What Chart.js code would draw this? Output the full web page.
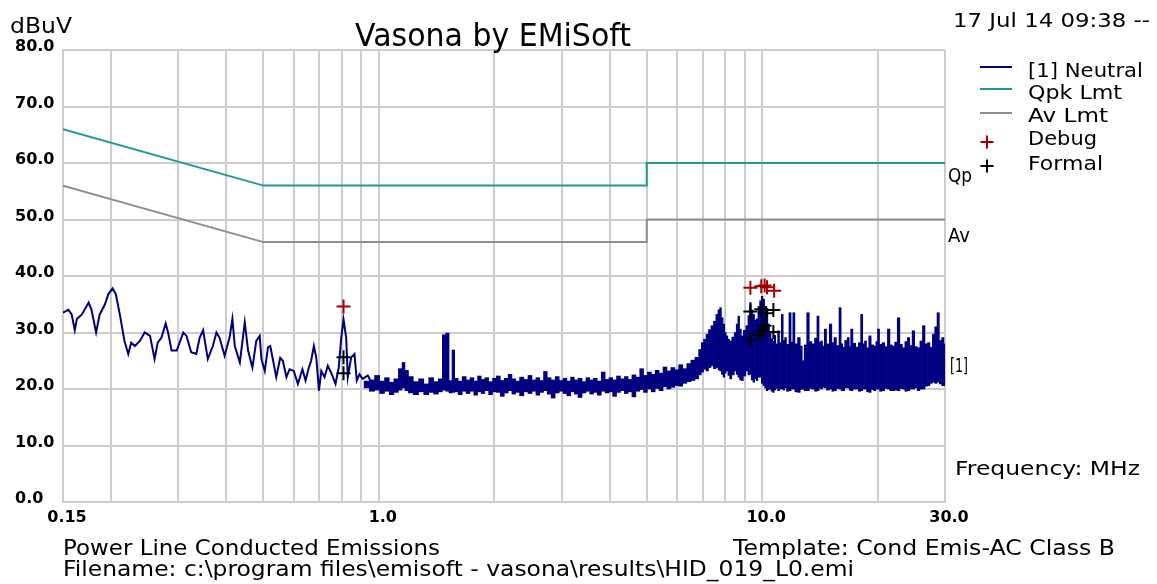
<!DOCTYPE html>
<html>
<head>
<meta charset="utf-8">
<title>Vasona by EMiSoft</title>
<script src="https://cdn.jsdelivr.net/npm/chart.js@4.4.1/dist/chart.umd.min.js"></script>
<style>
  html, body { margin: 0; padding: 0; background: #fff; }
  #wrap { width: 1157px; height: 584px; }
</style>
</head>
<body>
<div id="wrap"><canvas id="emiChart" width="1157" height="584"></canvas></div>
<script>
// Axis ticks
const xGridTicks = [0.15, 0.2, 0.3, 0.4, 0.5, 0.6, 0.7, 0.8, 0.9, 1, 2, 3, 4, 5, 6, 7, 8, 9, 10, 20, 30];
const xTickLabels = { 0.15: '0.15', 1: '1.0', 10: '10.0', 30: '30.0' };
const yTickValues = [0, 10, 20, 30, 40, 50, 60, 70, 80];

// Limit lines [MHz, dBuV]
const qpkLimit = [[0.15, 66], [0.5, 56], [5, 56], [5, 60], [30, 60]];
const avLimit = [[0.15, 56], [0.5, 46], [5, 46], [5, 50], [30, 50]];

// Neutral sweep, low band [MHz, dBuV]
const neutralSweep = [
  [0.150, 33.5], [0.155, 34.0], [0.158, 33.2], [0.161, 30.4], [0.163, 32.4], [0.168, 33.2],
  [0.175, 35.3], [0.178, 34.0], [0.183, 30.0], [0.187, 33.2], [0.193, 35.0], [0.197, 36.8],
  [0.202, 37.8], [0.206, 36.8], [0.211, 33.2], [0.217, 28.5], [0.222, 26.2], [0.226, 28.2],
  [0.231, 27.6], [0.238, 28.5], [0.245, 30.0], [0.253, 29.4], [0.260, 25.3], [0.265, 28.2],
  [0.271, 29.1], [0.278, 31.6], [0.282, 30.0], [0.288, 26.8], [0.297, 26.8], [0.309, 30.0],
  [0.315, 29.4], [0.324, 26.5], [0.334, 26.2], [0.341, 29.1], [0.348, 30.4], [0.358, 25.3],
  [0.369, 27.6], [0.377, 30.0], [0.384, 29.1], [0.396, 25.9], [0.408, 29.1], [0.415, 32.4],
  [0.421, 27.6], [0.434, 24.7], [0.447, 31.8], [0.456, 26.8], [0.468, 23.8], [0.479, 28.5],
  [0.489, 29.4], [0.494, 25.3], [0.504, 23.2], [0.514, 27.4], [0.521, 27.6], [0.530, 25.0],
  [0.540, 22.1], [0.553, 25.5], [0.562, 25.0], [0.574, 22.1], [0.585, 23.5], [0.600, 23.2],
  [0.615, 20.9], [0.632, 23.5], [0.644, 21.5], [0.657, 23.8], [0.666, 25.0], [0.677, 27.6],
  [0.687, 25.5], [0.698, 19.7], [0.708, 23.2], [0.722, 22.1], [0.736, 24.1], [0.751, 22.9],
  [0.771, 20.9], [0.786, 23.8], [0.798, 29.1], [0.809, 32.3], [0.822, 29.1], [0.830, 22.1],
  [0.847, 25.6], [0.864, 26.2], [0.876, 21.5], [0.890, 22.6], [0.908, 21.8], [0.936, 22.4],
  [0.965, 20.6], [0.993, 21.8], [1.024, 20.6]
];

// Neutral sweep, dense part [MHz, top dBuV, bottom dBuV]
const neutralBand = [
  [0.93, 21.4, 20.2], [0.96, 21.6, 19.6], [0.99, 22.4, 19.8],
  [1.02, 21.4, 19.2], [1.05, 22.0, 19.6], [1.08, 21.2, 19.0], [1.11, 21.8, 19.4], [1.14, 23.6, 19.8],
  [1.16, 24.7, 20.2], [1.18, 23.3, 19.7], [1.21, 22.2, 19.3], [1.25, 21.3, 19.0], [1.29, 21.8, 19.5],
  [1.33, 20.9, 19.0], [1.37, 22.0, 19.4], [1.41, 21.3, 19.1], [1.45, 21.8, 19.5], [1.48, 29.6, 19.8],
  [1.51, 29.9, 19.6], [1.54, 21.5, 19.3], [1.565, 26.9, 19.4], [1.59, 21.9, 19.5], [1.63, 21.4, 19.0],
  [1.67, 22.2, 19.6], [1.71, 21.6, 19.2], [1.75, 22.0, 19.6], [1.79, 21.4, 18.9], [1.83, 22.3, 19.5],
  [1.87, 21.7, 19.2], [1.91, 22.0, 19.7], [1.96, 21.3, 19.0], [2.00, 21.9, 19.5], [2.05, 22.3, 19.4],
  [2.10, 21.5, 18.7], [2.15, 21.9, 19.3], [2.20, 22.6, 19.7], [2.25, 21.8, 19.1], [2.30, 21.4, 19.4],
  [2.36, 22.1, 18.8], [2.42, 21.7, 19.5], [2.48, 22.4, 19.2], [2.54, 21.6, 19.6], [2.60, 22.0, 18.9],
  [2.66, 21.5, 19.4], [2.72, 23.1, 19.7], [2.78, 22.0, 19.1], [2.85, 21.6, 18.4], [2.92, 22.2, 19.3],
  [2.99, 21.5, 19.6], [3.06, 21.9, 19.2], [3.13, 21.4, 18.8], [3.20, 22.1, 19.5], [3.27, 21.6, 19.1],
  [3.35, 21.9, 18.5], [3.43, 21.3, 19.3], [3.51, 22.0, 19.6], [3.59, 21.6, 19.1], [3.67, 21.9, 19.4],
  [3.76, 21.4, 18.9], [3.85, 23.0, 19.6], [3.94, 21.7, 19.3], [4.03, 22.0, 19.5], [4.12, 21.6, 18.7],
  [4.22, 22.3, 19.4], [4.32, 21.8, 19.7], [4.42, 22.2, 19.2], [4.52, 21.7, 19.5], [4.63, 22.5, 18.6],
  [4.74, 22.1, 19.6], [4.85, 23.6, 19.9], [4.96, 22.4, 19.4], [5.08, 23.0, 20.0], [5.20, 22.6, 19.5],
  [5.32, 23.3, 20.1], [5.45, 22.8, 19.7], [5.58, 23.9, 20.4], [5.71, 23.2, 20.0], [5.85, 23.8, 20.3],
  [5.99, 23.4, 20.6], [6.13, 24.3, 20.5], [6.28, 23.6, 21.0], [6.44, 24.5, 21.3], [6.60, 25.1, 21.5],
  [6.76, 25.6, 21.8], [6.90, 27.0, 22.5], [6.98, 28.2, 23.0], [7.09, 28.8, 23.5], [7.19, 29.7, 23.2],
  [7.30, 30.5, 23.8], [7.41, 31.2, 24.1], [7.52, 32.0, 23.6], [7.63, 33.2, 23.8], [7.71, 34.0, 23.4],
  [7.79, 34.4, 23.2], [7.87, 32.6, 22.6], [7.95, 31.5, 22.1], [8.02, 30.0, 22.8], [8.10, 29.4, 23.2],
  [8.18, 28.8, 22.4], [8.27, 28.5, 21.8], [8.40, 29.2, 22.5], [8.52, 30.0, 23.2], [8.60, 31.5, 22.6],
  [8.69, 32.9, 22.1], [8.78, 30.6, 21.6], [8.87, 29.4, 21.5], [9.00, 30.4, 22.3], [9.14, 31.2, 23.2],
  [9.23, 33.0, 22.5], [9.32, 35.3, 22.6], [9.42, 34.0, 21.6], [9.51, 33.2, 21.2], [9.60, 32.2, 21.8],
  [9.70, 32.4, 21.5], [9.80, 34.6, 22.1], [9.90, 35.6, 22.1], [10.0, 36.4, 21.0], [10.1, 35.9, 20.6],
  [10.2, 34.6, 20.2], [10.3, 33.8, 19.7], [10.4, 31.5, 19.9], [10.5, 30.0, 20.0], [10.6, 28.9, 19.6],
  [10.7, 28.5, 19.4], [10.8, 29.5, 19.8], [10.9, 28.0, 20.1], [11.05, 30.3, 19.7], [11.15, 28.2, 20.0],
  [11.3, 33.2, 20.0], [11.4, 28.6, 19.8], [11.5, 29.1, 20.2], [11.65, 27.9, 19.6], [11.85, 33.5, 19.7],
  [11.95, 28.3, 20.0], [12.1, 33.5, 20.0], [12.25, 28.0, 19.5], [12.5, 29.1, 19.4], [12.65, 27.6, 19.9],
  [12.8, 25.0, 20.0], [12.95, 27.8, 19.7], [13.2, 33.5, 19.7], [13.35, 28.4, 20.1], [13.6, 28.0, 20.0],
  [13.8, 29.0, 19.6], [14.0, 32.9, 19.7], [14.15, 28.3, 20.1], [14.3, 28.5, 20.0], [14.45, 27.6, 20.3],
  [14.6, 30.6, 20.2], [14.85, 28.0, 19.8], [15.1, 31.5, 20.0], [15.3, 28.2, 19.6], [15.5, 29.1, 19.7],
  [15.75, 27.7, 20.1], [16.0, 34.4, 20.0], [16.15, 28.0, 19.7], [16.3, 27.4, 19.7], [16.55, 28.6, 20.2],
  [16.8, 29.1, 20.2], [16.95, 27.5, 19.8], [17.1, 30.6, 19.7], [17.4, 28.1, 20.0], [17.7, 27.4, 20.0],
  [17.95, 28.2, 19.6], [18.2, 33.2, 19.7], [18.4, 28.0, 20.0], [18.6, 28.5, 20.0], [18.85, 27.3, 19.5],
  [19.1, 29.4, 19.4], [19.4, 27.8, 19.9], [19.7, 27.6, 19.7], [19.9, 28.4, 20.0], [20.1, 30.6, 20.0],
  [20.4, 27.9, 19.6], [20.7, 28.2, 19.7], [21.05, 27.5, 20.1], [21.4, 30.6, 20.0], [21.7, 27.8, 19.7],
  [22.0, 27.6, 19.7], [22.35, 28.3, 19.8], [22.7, 32.6, 19.7], [23.05, 27.9, 20.1], [23.4, 27.3, 20.0],
  [23.75, 28.4, 19.6], [24.1, 29.1, 19.7], [24.45, 27.7, 20.0], [24.8, 30.3, 20.0], [25.2, 27.5, 20.2],
  [25.6, 27.3, 19.7], [26.0, 28.5, 20.0], [26.4, 31.2, 20.0], [26.8, 28.0, 20.5], [27.2, 28.2, 20.6],
  [27.6, 27.4, 21.0], [28.0, 29.7, 21.2], [28.4, 31.0, 21.0], [28.8, 33.5, 21.2], [29.2, 28.6, 20.9],
  [29.6, 29.1, 20.6], [30.0, 28.0, 20.6]
];

// Peak markers [MHz, dBuV]
const debugPeaks = [[0.809, 34.6], [9.32, 37.9], [9.95, 38.2], [10.15, 38.3], [10.3, 38.0], [10.75, 37.4]];
const formalPeaks = [
  [0.809, 25.6], [0.809, 22.8], [9.32, 33.7], [9.95, 34.1], [10.25, 33.4], [10.7, 34.0],
  [9.32, 28.7], [9.85, 29.6], [10.0, 30.4], [10.15, 31.2], [10.7, 30.1]
];

const NAVY = '#000080';
const TEAL = '#1f9a96';
const GREY = '#8e8e8e';
const RED = '#a00000';
const GRID = '#cdcdcd';
const FONT = '"DejaVu Sans", "Liberation Sans", sans-serif';

const toXY = pts => pts.map(p => ({ x: p[0], y: p[1] }));

// Draw text stretched/squeezed to a given width (the original uses a bitmap font)
function fitText(ctx, text, x, y, width, size) {
  ctx.save();
  ctx.font = size + 'px ' + FONT;
  ctx.fillStyle = '#000';
  ctx.textAlign = 'left';
  ctx.textBaseline = 'alphabetic';
  const w = ctx.measureText(text).width;
  ctx.translate(x, y);
  ctx.scale(width / w, 1);
  ctx.fillText(text, 0, 0);
  ctx.restore();
}

function drawCross(ctx, x, y, r, color) {
  ctx.save();
  ctx.strokeStyle = color;
  ctx.lineWidth = 2;
  ctx.beginPath();
  ctx.moveTo(x - r, y); ctx.lineTo(x + r, y);
  ctx.moveTo(x, y - r); ctx.lineTo(x, y + r);
  ctx.stroke();
  ctx.restore();
}

// text, left x, baseline y, width, font size
const annotations = [
  ['Vasona by EMiSoft', 355, 46, 276, 32],
  ['dBuV', 10, 33, 62, 21],
  ['17 Jul 14 09:38 --', 953, 27, 197, 20],
  ['Qp', 948, 182, 24, 19],
  ['Av', 948, 242, 22, 19],
  ['[1]', 950, 372, 18, 19],
  ['Frequency: MHz', 955, 475, 185, 20],
  ['Power Line Conducted Emissions', 63, 555, 377, 22],
  ['Template: Cond Emis-AC Class B', 733, 555, 382, 22],
  ['Filename: c:\\program files\\emisoft - vasona\\results\\HID_019_L0.emi', 63, 576, 791, 22]
];

// legend rows: label, kind, colour, symbol y, baseline y, text width
const legendRows = [
  ['[1] Neutral', 'line', NAVY, 67, 77, 115],
  ['Qpk Lmt', 'line', TEAL, 89, 99, 94],
  ['Av Lmt', 'line', GREY, 113, 122, 80],
  ['Debug', 'cross', RED, 142, 145, 69],
  ['Formal', 'cross', '#000', 166, 170, 75]
];

const textPlugin = {
  id: 'emiText',
  afterDraw(chart) {
    const ctx = chart.ctx;
    annotations.forEach(a => fitText(ctx, a[0], a[1], a[2], a[3], a[4]));
    legendRows.forEach(row => {
      if (row[1] === 'line') {
        ctx.save();
        ctx.strokeStyle = row[2];
        ctx.lineWidth = 2;
        ctx.beginPath();
        ctx.moveTo(980, row[3]);
        ctx.lineTo(1012, row[3]);
        ctx.stroke();
        ctx.restore();
      } else {
        drawCross(ctx, 987, row[3], 6.5, row[2]);
      }
      fitText(ctx, row[0], 1028, row[4], row[5], 20);
    });
  }
};

const ctx = document.getElementById('emiChart').getContext('2d');
new Chart(ctx, {
  type: 'line',
  data: {
    datasets: [
      {
        label: 'Formal',
        data: toXY(formalPeaks),
        showLine: false,
        pointStyle: 'cross',
        pointRadius: 7,
        pointBorderWidth: 2,
        borderColor: '#000',
        backgroundColor: '#000'
      },
      {
        label: 'Debug',
        data: toXY(debugPeaks),
        showLine: false,
        pointStyle: 'cross',
        pointRadius: 7,
        pointBorderWidth: 2,
        borderColor: RED,
        backgroundColor: RED
      },
      {
        label: 'Qpk Lmt',
        data: toXY(qpkLimit),
        borderColor: TEAL,
        borderWidth: 2,
        pointRadius: 0
      },
      {
        label: 'Av Lmt',
        data: toXY(avLimit),
        borderColor: GREY,
        borderWidth: 2,
        pointRadius: 0
      },
      {
        label: '[1] Neutral',
        data: toXY(neutralSweep),
        borderColor: NAVY,
        borderWidth: 2,
        pointRadius: 0
      },
      {
        // dense sweep: each column drawn as a floating bar from min to max reading
        type: 'bar',
        label: 'Neutral band',
        data: neutralBand.map(p => ({ x: p[0], y: [p[2], p[1]] })),
        backgroundColor: NAVY,
        borderWidth: 0,
        barThickness: 'flex',
        barPercentage: 1,
        categoryPercentage: 1
      }
    ]
  },
  options: {
    responsive: false,
    animation: false,
    layout: { padding: { left: 15, right: 212, top: 50, bottom: 0 } },
    elements: { line: { tension: 0 } },
    plugins: {
      legend: { display: false },
      tooltip: { enabled: false }
    },
    scales: {
      x: {
        type: 'logarithmic',
        min: 0.15,
        max: 30,
        offset: false,
        afterBuildTicks: scale => { scale.ticks = xGridTicks.map(v => ({ value: v })); },
        afterFit: scale => { scale.height = 82; },
        grid: { color: GRID, lineWidth: 2, drawTicks: false, offset: false },
        border: { color: GRID, width: 2 },
        ticks: {
          autoSkip: false,
          maxRotation: 0,
          padding: 6,
          labelOffset: 4,
          color: '#000',
          font: { family: FONT, size: 16, weight: 'bold' },
          callback: value => xTickLabels[value] || ''
        }
      },
      y: {
        min: 0,
        max: 80,
        afterBuildTicks: scale => { scale.ticks = yTickValues.map(v => ({ value: v })); },
        afterFit: scale => { scale.width = 48; },
        grid: { color: GRID, lineWidth: 2, drawTicks: false },
        border: { color: GRID, width: 2 },
        ticks: {
          padding: 6,
          crossAlign: 'far',
          labelOffset: -3,
          color: '#000',
          font: { family: FONT, size: 16, weight: 'bold' },
          callback: value => value.toFixed(1)
        }
      }
    }
  },
  plugins: [textPlugin]
});
</script>
</body>
</html>
